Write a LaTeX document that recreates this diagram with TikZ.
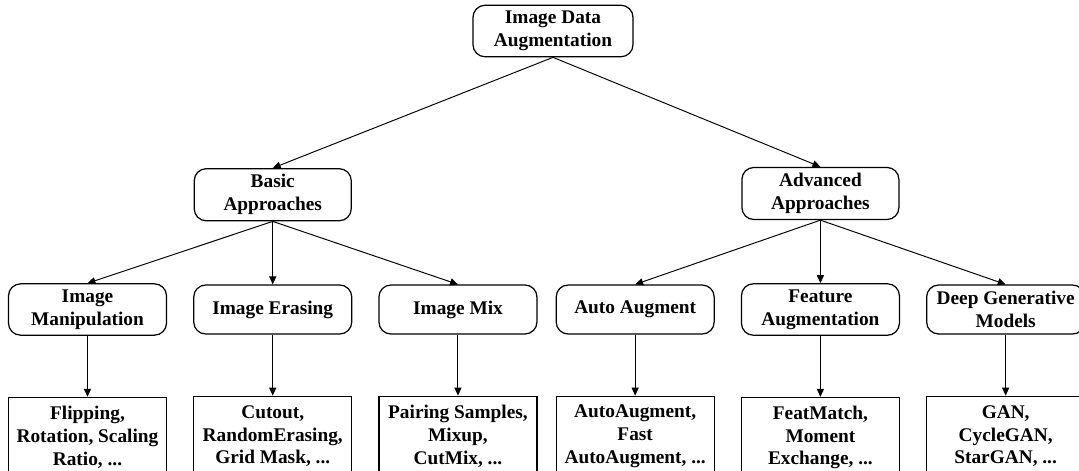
\documentclass[tikz,border=0pt]{standalone}
\usepackage{fontspec}
\setmainfont{Liberation Serif}
\usepackage{tikz}
\usetikzlibrary{positioning,arrows.meta}

\begin{document}
\begin{tikzpicture}[
	node distance=1.22cm,
	every node/.style={font=\fontsize{11pt}{13pt}\selectfont\bfseries},
	catbox/.style={draw, line width=0.7pt, rounded corners=0.24cm, align=center, inner xsep=2pt, minimum width=3.16cm, minimum height=0.98cm},
	leafbox/.style={draw, line width=0.7pt, align=center, inner xsep=2pt, inner ysep=4pt, minimum width=3.16cm, minimum height=1.6cm},
	arrow/.style={-{Triangle[length=4.5pt,width=4pt]}, line width=0.55pt}
	]
	
	\useasboundingbox (0,0) rectangle (21.58,-9.4);
	
	\node[catbox, minimum width=3.2cm] (root) at (11.06,-0.62) {Image Data\\Augmentation};
	
	\node[catbox] (manip) at (1.75,-6.19) {Image\\Manipulation};
	\node[catbox, right=0.52cm of manip] (erase) {Image Erasing};
	\node[catbox, right=0.52cm of erase] (mix) {Image Mix};
	\node[catbox, right=0.36cm of mix] (auto) {Auto Augment};
	\node[catbox, right=0.52cm of auto] (feat) {Feature\\Augmentation};
	\node[catbox, right=0.52cm of feat] (deep) {Deep Generative\\Models};
	
	\node[catbox, minimum width=3.14cm, above=1.26cm of erase] (basic) {Basic\\Approaches};
	\node[catbox, minimum width=3.14cm, above=1.26cm of feat] (adv) {Advanced\\Approaches};
	
	\node[leafbox, below=of manip] (manipL) {Flipping,\\Rotation, Scaling\\Ratio, ...};
	\node[leafbox, below=of erase] (eraseL) {Cutout,\\RandomErasing,\\Grid Mask, ...};
	\node[leafbox, below=of mix] (mixL) {Pairing Samples,\\Mixup,\\CutMix, ...};
	\node[leafbox, below=of auto] (autoL) {AutoAugment,\\Fast\\AutoAugment, ...};
	\node[leafbox, below=of feat] (featL) {FeatMatch,\\Moment\\Exchange, ...};
	\node[leafbox, below=of deep] (deepL) {GAN,\\CycleGAN,\\StarGAN, ...};
	
	\draw[arrow] (root.south) -- (basic.north);
	\draw[arrow] (root.south) -- (adv.north);
	
	\draw[arrow] (basic.south) -- (manip.north);
	\draw[arrow] (basic.south) -- (erase.north);
	\draw[arrow] (basic.south) -- (mix.north);
	\draw[arrow] (adv.south) -- (auto.north);
	\draw[arrow] (adv.south) -- (feat.north);
	\draw[arrow] (adv.south) -- (deep.north);
	
	\draw[arrow] (manip) -- (manipL);
	\draw[arrow] (erase) -- (eraseL);
	\draw[arrow] (mix) -- (mixL);
	\draw[arrow] (auto) -- (autoL);
	\draw[arrow] (feat) -- (featL);
	\draw[arrow] (deep) -- (deepL);
	
\end{tikzpicture}
\end{document}
